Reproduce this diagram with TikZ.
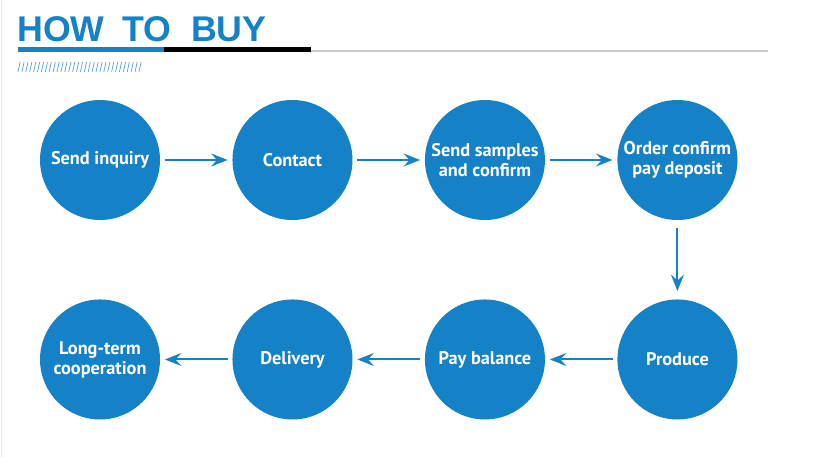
\documentclass[tikz,border=0pt]{standalone}
\usepackage{fontspec}
\setmainfont{PT Sans}
\newfontfamily\titlefont{Liberation Sans}
\usepackage{tikz}
\usepackage{xcolor}
\usetikzlibrary{positioning, arrows.meta}
\definecolor{BuyBlue}{HTML}{1582C8}
\definecolor{BuyHatch}{HTML}{5AA3D6}
\definecolor{BuyGray}{HTML}{C8C8C8}

\begin{document}
\begin{tikzpicture}[x=0.03cm, y=-0.03cm,
  stepcircle/.style={circle, fill=BuyBlue, minimum size=3.6cm, inner sep=0pt,
    text=white, align=center, font=\bfseries\fontsize{15.6}{17}\selectfont},
  flow/.style={BuyBlue, line width=1.7pt, -{Stealth[length=14pt, width=11pt, inset=5pt]}},
  node distance=2.16cm and 2.16cm]
  \useasboundingbox[fill=white] (0,0) rectangle (834,457);
  % Page edge
  \draw[BuyGray!40, line width=0.8pt] (1,0) -- (1,457);
  % Title and rule
  \node[anchor=base west, inner sep=0pt, text=BuyBlue,
    font=\titlefont\bfseries\fontsize{30.5}{30.5}\selectfont] (title) at (17,42)
    {HOW\hspace{15pt}TO\hspace{17pt}BUY};
  \draw[BuyGray, line width=2pt*0.8536] (311,51) -- (768,51);
  \draw[BuyBlue, line width=4.3pt] (18,49.5) -- (164,49.5);
  \draw[black, line width=4.3pt] (164,49.5) -- (311,49.5);
  % Hatch marks
  \foreach \i in {0,...,31} {
    \draw[BuyHatch, line width=0.6pt] (18+\i*3.9,72) -- ++(2.2,-10);
  }
  % Top row
  \node[stepcircle] (inquiry) at (100,160) {Send inquiry};
  \node[stepcircle, right=of inquiry] (contact) {Contact};
  \node[stepcircle, right=of contact] (samples) {Send samples\\and confirm};
  \node[stepcircle, right=of samples] (order) {Order confirm\\pay deposit};
  % Bottom row
  \node[stepcircle, below=2.37cm of order] (produce) {Produce};
  \node[stepcircle, left=of produce] (balance) {Pay balance};
  \node[stepcircle, left=of balance] (delivery) {Delivery};
  \node[stepcircle, left=of delivery] (longterm) {Long-term\\cooperation};
  % Connectors
  \draw[flow] ([xshift=4pt]inquiry.east) -- ([xshift=-4pt]contact.west);
  \draw[flow] ([xshift=4pt]contact.east) -- ([xshift=-4pt]samples.west);
  \draw[flow] ([xshift=4pt]samples.east) -- ([xshift=-4pt]order.west);
  \draw[flow] ([yshift=-7pt]order.south) -- ([yshift=7pt]produce.north);
  \draw[flow] ([xshift=-4pt]produce.west) -- ([xshift=4pt]balance.east);
  \draw[flow] ([xshift=-4pt]balance.west) -- ([xshift=4pt]delivery.east);
  \draw[flow] ([xshift=-4pt]delivery.west) -- ([xshift=4pt]longterm.east);
\end{tikzpicture}
\end{document}
